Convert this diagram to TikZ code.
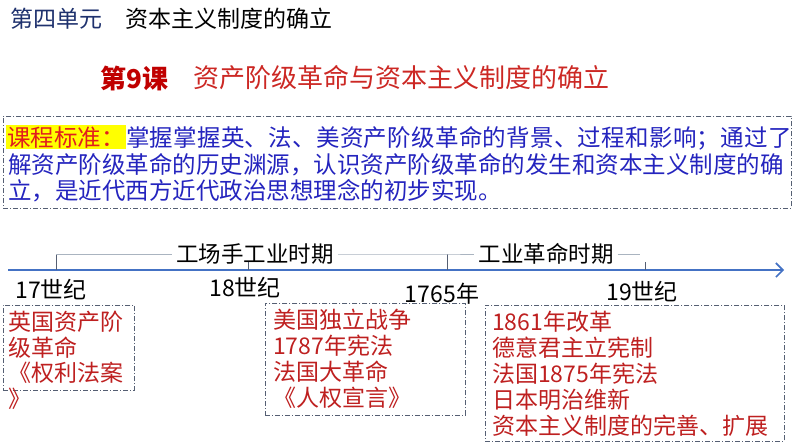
\documentclass[tikz,border=0pt]{standalone}
\usepackage{fontspec}
\setmainfont{Noto Sans CJK SC}
\usepackage{tikz}
\usetikzlibrary{%
  arrows.meta,
  positioning
}
\definecolor{unitblue}{RGB}{31,50,110}
\definecolor{lessonred}{RGB}{204,40,36}
\definecolor{lessonnored}{RGB}{192,0,0}
\definecolor{stdblue}{RGB}{36,36,190}
\definecolor{stdred}{RGB}{225,30,30}
\definecolor{stdyellow}{RGB}{255,255,0}
\definecolor{axisblue}{RGB}{68,114,196}
\definecolor{periodgray}{RGB}{170,180,192}
\definecolor{boxgray}{RGB}{85,95,115}
\definecolor{eventred}{RGB}{190,32,32}
\tikzset{
  dashdotbox/.style={
    draw=boxgray, line width=0.8pt,
    dash pattern=on 5pt off 2pt on 1pt off 2pt,
  },
  evtbox/.style={
    dashdotbox, anchor=north west, inner sep=0pt,
  },
  evttext/.style={
    anchor=north west, inner sep=0pt, align=left,
    text=eventred, font=\fontsize{23}{26}\selectfont,
  },
  stdtext/.style={
    anchor=base west, inner sep=0pt,
    text=stdblue, font=\fontsize{23.5}{26}\selectfont,
  },
  stdtag/.style={
    anchor=base west, inner sep=1pt, fill=stdyellow,
    text=stdred, font=\fontsize{23.5}{26}\selectfont,
  },
  yearlabel/.style={
    font=\fontsize{23}{23}\selectfont, inner sep=0pt,
  },
  periodlabel/.style={
    font=\fontsize{22.5}{22.5}\selectfont, inner sep=4pt,
  },
  periodline/.style={periodgray, line width=0.8pt},
  axisline/.style={
    axisblue, line width=2.5pt,
    -{Straight Barb[length=7pt, width=14pt, line width=1.6pt]},
  },
  timetick/.style={boxgray, line width=0.8pt},
}
\begin{document}
\begin{tikzpicture}[x=1pt, y=-1pt]
    \useasboundingbox (  0,   0) rectangle (794, 447) ;

    \node [anchor=west, inner sep=0pt, font=\fontsize{23}{23}\selectfont]
          (unit) at ( 10,  19)
          {\textcolor{unitblue}{第四单元}\hspace{1em}资本主义制度的确立} ;
    \node [anchor=west, inner sep=0pt, text=lessonnored,
           font=\fontsize{26}{26}\selectfont\bfseries]
          (lessonno) at (100,  78) {第9课} ;
    \node [anchor=west, inner sep=0pt, text=lessonred,
           font=\fontsize{26}{26}\selectfont]
          (lesson) at (193,  78) {资产阶级革命与资本主义制度的确立} ;

    \node [evtbox, minimum width=788pt, minimum height=92pt]
          (stdbox) at (  3, 116) {} ;
    \node [stdtag] (stdtag) at (  6, 146) {课程标准：} ;
    \node [stdtext, base right=0pt of stdtag] (std1)
          {\addfontfeatures{LetterSpace=1.2}掌握掌握英、法、美资产阶级革命的背景、过程和影响；通过了} ;
    \node [stdtext] (std2) at (  8, 173)
          {解资产阶级革命的历史渊源，认识资产阶级革命的发生和资本主义制度的确} ;
    \node [stdtext] (std3) at (  8, 199)
          {立，是近代西方近代政治思想理念的初步实现。} ;

    \coordinate (axisstart) at (  8, 270) ;
    \coordinate (axisend)   at (784, 270) ;
    \coordinate (t17)   at ( 56, 270) ;
    \coordinate (t18)   at (248, 270) ;
    \coordinate (t1765) at (447, 270) ;
    \coordinate (t19)   at (645, 270) ;
    \coordinate (p17)   at ( 56, 254) ;
    \coordinate (p1765) at (447, 254) ;
    \coordinate (p19)   at (640, 254) ;

    \draw [axisline] (axisstart) -- (axisend) ;
    \draw [timetick] (t17) -- (p17) ;
    \draw [timetick] (t18) -- ++(0, -8) ;
    \draw [timetick] (t1765) -- (p1765) ;
    \draw [timetick] (t19) -- ++(0, -8) ;

    \node [periodlabel] (manuf) at (255, 254) {工场手工业时期} ;
    \node [periodlabel] (indus) at (546, 254) {工业革命时期} ;
    \draw [periodline] (p17) -- (manuf) -- (p1765) -- (indus) -- (p19) ;

    \node [yearlabel] (y17)   at ( 51, 290) {17世纪} ;
    \node [yearlabel] (y18)   at (245, 288) {18世纪} ;
    \node [yearlabel] (y1765) at (442, 294) {1765年} ;
    \node [yearlabel] (y19)   at (642, 292) {19世纪} ;

    \node [evtbox, minimum width=131pt, minimum height=85pt]
          (box17) at (  3, 305) {} ;
    \node [evttext, font=\fontsize{23}{25.5}\selectfont]
          (evt17) at (  8, 311)
          {英国资产阶\\级革命\\《权利法案\\》} ;

    \node [evtbox, minimum width=200pt, minimum height=112pt]
          (box18) at (265, 303) {} ;
    \node [evttext] (evt18) at (273, 309)
          {美国独立战争\\1787年宪法\\法国大革命\\《人权宣言》} ;

    \node [evtbox, minimum width=299pt, minimum height=136pt]
          (box19) at (485, 305) {} ;
    \node [evttext] (evt19) at (492, 311)
          {1861年改革\\德意君主立宪制\\法国1875年宪法\\日本明治维新\\资本主义制度的完善、扩展} ;
  \end{tikzpicture}
\end{document}
